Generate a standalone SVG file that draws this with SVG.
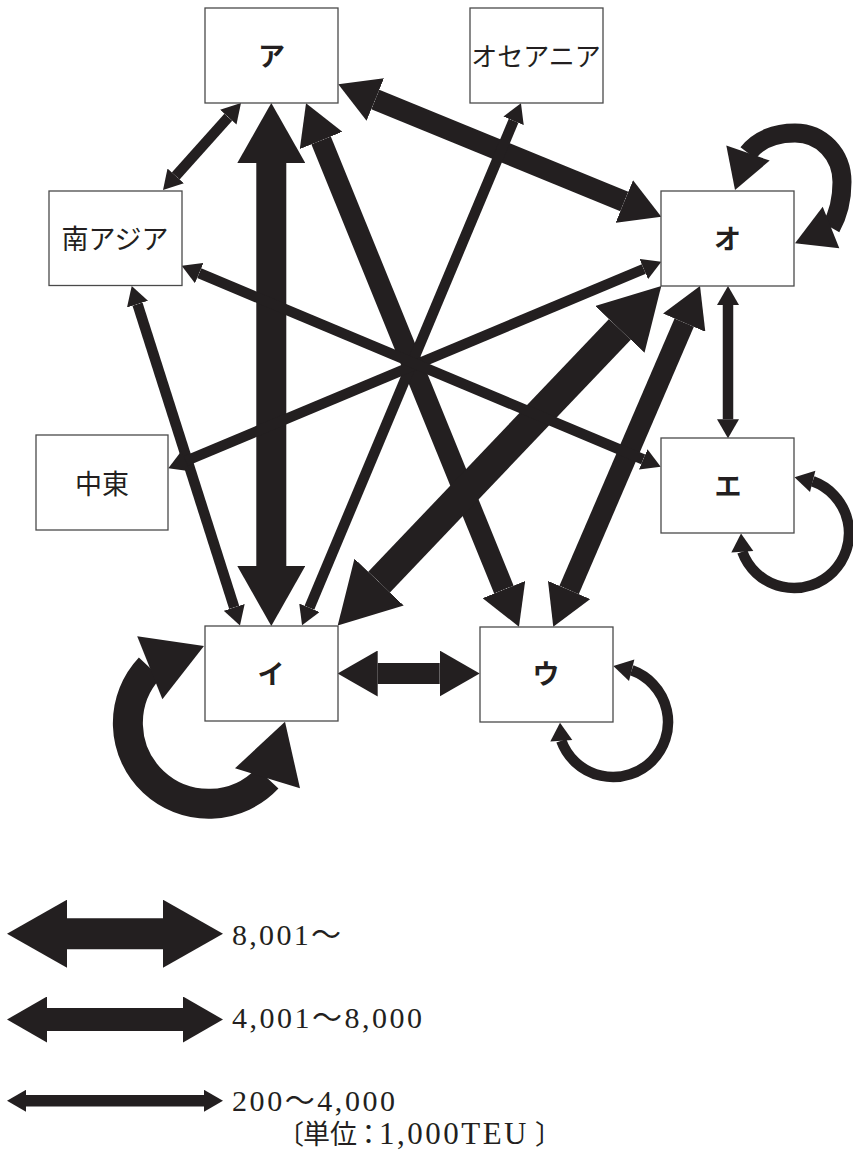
<svg xmlns="http://www.w3.org/2000/svg" width="853" height="1160" viewBox="0 0 853 1160">
<style>
.bg{fill:#ffffff}
.box{fill:#ffffff;stroke:#4a4a4a;stroke-width:1.3}
.sh{fill:none;stroke:#231f20;stroke-linecap:butt}
.t{stroke-width:30}
.m{stroke-width:21}
.s{stroke-width:10.5}
.hd{fill:#231f20}
.lb{font-family:"Noto Sans CJK JP","Noto Sans",sans-serif;font-weight:bold;font-size:27px;fill:#231f20;text-anchor:middle}
.rg{font-family:"Noto Sans CJK JP","Noto Sans",sans-serif;font-weight:normal;font-size:27px;fill:#231f20;text-anchor:middle}
.lg{font-family:"Liberation Serif","Noto Sans CJK JP",serif;font-size:30px;fill:#231f20}
.cj{font-family:"Noto Sans CJK JP",sans-serif;font-size:27px}
</style>
<defs>
<marker id="hT" viewBox="0 -34 60 68" refX="0" refY="0" markerWidth="60" markerHeight="68" markerUnits="userSpaceOnUse" orient="auto-start-reverse"><path d="M0,-34 L60,0 L0,34 Z" fill="#231f20"/></marker>
<marker id="hM" viewBox="0 -23 40 46" refX="0" refY="0" markerWidth="40" markerHeight="46" markerUnits="userSpaceOnUse" orient="auto-start-reverse"><path d="M0,-23 L40,0 L0,23 Z" fill="#231f20"/></marker>
<marker id="hS" viewBox="0 -11 19 22" refX="0" refY="0" markerWidth="19" markerHeight="22" markerUnits="userSpaceOnUse" orient="auto-start-reverse"><path d="M0,-11 L19,0 L0,11 Z" fill="#231f20"/></marker>
</defs>
<rect class="bg" x="0" y="0" width="853" height="1160"/>
<g id="connectors">
<line class="sh s" x1="228.3" y1="117.2" x2="175.7" y2="175.9" marker-start="url(#hS)" marker-end="url(#hS)"/>
<line class="sh t" x1="271.3" y1="163" x2="271.3" y2="566" marker-start="url(#hT)" marker-end="url(#hT)"/>
<line class="sh m" x1="375.3" y1="99.5" x2="624.3" y2="201.5" marker-start="url(#hM)" marker-end="url(#hM)"/>
<line class="sh m" x1="321.1" y1="140.4" x2="503.9" y2="589.6" marker-start="url(#hM)" marker-end="url(#hM)"/>
<line class="sh m" x1="684.2" y1="322.7" x2="569.1" y2="590.0" marker-start="url(#hM)" marker-end="url(#hM)"/>
<line class="sh t" x1="619.9" y1="329.4" x2="379.1" y2="582.1" marker-start="url(#hT)" marker-end="url(#hT)"/>
<line class="sh s" x1="728" y1="305" x2="728" y2="419.3" marker-start="url(#hS)" marker-end="url(#hS)"/>
<line class="sh m" x1="377.7" y1="673.5" x2="439.7" y2="673.5" marker-start="url(#hM)" marker-end="url(#hM)"/>
<line class="sh s" x1="137.5" y1="304.1" x2="234.2" y2="607.4" marker-start="url(#hS)" marker-end="url(#hS)"/>
<line class="sh s" x1="513.6" y1="120.8" x2="309.4" y2="607.8" marker-start="url(#hS)" marker-end="url(#hS)"/>
<line class="sh s" x1="185.8" y1="461.0" x2="643.8" y2="269.0" marker-start="url(#hS)" marker-end="url(#hS)"/>
<line class="sh s" x1="199.2" y1="273.1" x2="643.2" y2="459.4" marker-start="url(#hS)" marker-end="url(#hS)"/>
<!-- self loops -->
<path class="sh t" d="M149.8,667.7 A80,80 0 1 0 267.5,778.3"/>
<polygon class="hd" points="204,646 162.4,699.3 137.2,636.2"/>
<polygon class="hd" points="285,721.7 300,788.3 235,768.3"/>
<path class="sh" stroke-width="19" d="M748,153 C758,140 775,133 795,133 C822,133 842,155 842,182 C842,200 838,215 831,227.5"/>
<polygon class="hd" points="735,190 769.7,160.6 726.3,145.4"/>
<polygon class="hd" points="795,243.3 822.7,206.7 839.3,248.3"/>
<path class="sh s" d="M631.7,670.3 A55,55 0 1 1 561.3,740.7"/>
<polygon class="hd" points="613.3,666 634.4,659.6 629.0,680.9"/>
<polygon class="hd" points="560,722.7 572.3,739.9 550.3,741.5"/>
<path class="sh s" d="M812.7,481.3 A55,55 0 1 1 742.3,551.7"/>
<polygon class="hd" points="794.5,477.3 815.4,470.7 810.0,491.9"/>
<polygon class="hd" points="741,533.5 753.3,550.9 731.3,552.5"/>
</g>
<g id="node-a"><rect class="box" x="205" y="8" width="133" height="95"/><text class="lb" x="271.5" y="65.8">ア</text></g>
<g id="node-oceania"><rect class="box" x="470" y="8" width="133" height="95"/><text class="rg" x="536" y="65.7" style="font-size:26px">オセアニア</text></g>
<g id="node-southasia"><rect class="box" x="49" y="191" width="133" height="94.5"/><text class="rg" x="115" y="248.6">南アジア</text></g>
<g id="node-o"><rect class="box" x="661" y="191" width="133" height="95"/><text class="lb" x="727.5" y="248.8">オ</text></g>
<g id="node-middleeast"><rect class="box" x="36" y="435" width="132" height="95"/><text class="rg" x="102" y="493.6">中東</text></g>
<g id="node-e"><rect class="box" x="661" y="438" width="133" height="95"/><text class="lb" x="728" y="496">エ</text></g>
<g id="node-i"><rect class="box" x="205" y="626" width="133" height="95"/><text class="lb" x="271" y="684">イ</text></g>
<g id="node-u"><rect class="box" x="480" y="627" width="133" height="95"/><text class="lb" x="546" y="684.3">ウ</text></g>
<g id="legend">
<line class="sh" stroke-width="31" x1="67" y1="933.7" x2="163" y2="933.7" marker-start="url(#hT)" marker-end="url(#hT)"/>
<line class="sh" stroke-width="23" x1="47" y1="1019.5" x2="183" y2="1019.5" marker-start="url(#hM)" marker-end="url(#hM)"/>
<line class="sh" stroke-width="11.5" x1="26" y1="1100.8" x2="204" y2="1100.8" marker-start="url(#hS)" marker-end="url(#hS)"/>
<text class="lg" x="232" y="945" textLength="109" lengthAdjust="spacing">8,001～</text>
<text class="lg" x="232" y="1028" textLength="190" lengthAdjust="spacing">4,001～8,000</text>
<text class="lg" x="232" y="1111" textLength="163" lengthAdjust="spacing">200～4,000</text>
<text class="lg" y="1144"><tspan class="cj" x="277">〔</tspan><tspan class="cj" x="303">単位</tspan><tspan class="cj" x="355">：</tspan><tspan x="379" style="font-size:31px;letter-spacing:2.5px">1,000TEU</tspan><tspan class="cj" x="535">〕</tspan></text>
</g>
</svg>
